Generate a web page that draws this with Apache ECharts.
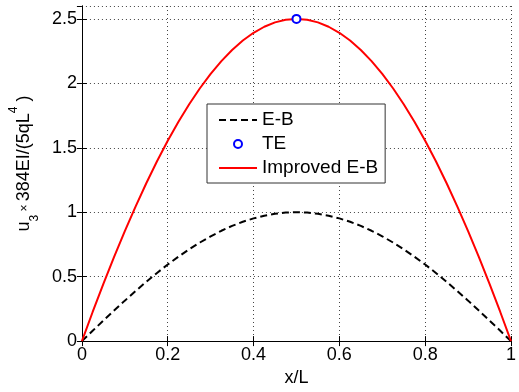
<!DOCTYPE html>
<html>
<head>
<meta charset="utf-8">
<script src="https://cdn.jsdelivr.net/npm/echarts@6/dist/echarts.min.js"></script>
<style>
  html, body { margin: 0; padding: 0; background: #fff; }
  #chart { width: 519px; height: 392px; }
</style>
</head>
<body>
<div id="chart"></div>
<script>
// x/L positions read along the span
const xPos = [0, 0.025, 0.05, 0.075, 0.1, 0.125, 0.15, 0.175, 0.2, 0.225, 0.25,
  0.275, 0.3, 0.325, 0.35, 0.375, 0.4, 0.425, 0.45, 0.475, 0.5,
  0.525, 0.55, 0.575, 0.6, 0.625, 0.65, 0.675, 0.7, 0.725, 0.75,
  0.775, 0.8, 0.825, 0.85, 0.875, 0.9, 0.925, 0.95, 0.975, 1];
// E-B (dashed black)
const ebValues = [0, 0.080, 0.159, 0.237, 0.314, 0.388, 0.46, 0.529, 0.594, 0.655, 0.712,
  0.765, 0.813, 0.856, 0.894, 0.926, 0.952, 0.973, 0.988, 0.997, 1,
  0.997, 0.988, 0.973, 0.952, 0.926, 0.894, 0.856, 0.813, 0.765, 0.712,
  0.655, 0.594, 0.529, 0.46, 0.388, 0.314, 0.237, 0.159, 0.080, 0];
// Improved E-B (red)
const improvedValues = [0, 0.226, 0.444, 0.654, 0.854, 1.044, 1.225, 1.395, 1.554, 1.702, 1.838,
  1.962, 2.073, 2.172, 2.259, 2.332, 2.392, 2.439, 2.473, 2.493, 2.5,
  2.493, 2.473, 2.439, 2.392, 2.332, 2.259, 2.172, 2.073, 1.962, 1.838,
  1.702, 1.554, 1.395, 1.225, 1.044, 0.854, 0.654, 0.444, 0.226, 0];
// TE (single blue circle)
const teX = [0.5];
const teValues = [2.5];

const FONT = "'Liberation Sans', Arial, sans-serif";
const pairs = (xs, ys) => xs.map((x, i) => [x, ys[i]]);

const chart = echarts.init(document.getElementById('chart'), null, { renderer: 'canvas' });

const gridLine = { show: true, lineStyle: { color: '#444', type: [1, 3], width: 1 } };
const frameAxis = {
  axisLine: { show: true, lineStyle: { color: '#000', width: 1 } },
  axisTick: { show: true, inside: true, length: 5, lineStyle: { color: '#000' } },
};

chart.setOption({
  animation: false,
  textStyle: { fontFamily: FONT },
  grid: { left: 81, right: 5, top: 6, bottom: 46 },
  legend: {
    orient: 'vertical',
    left: 207,
    top: 104,
    padding: [6, 7, 5, 11],
    backgroundColor: '#fff',
    borderColor: '#333',
    borderWidth: 1,
    borderRadius: 0,
    itemWidth: 38,
    itemHeight: 10,
    itemGap: 4,
    textStyle: { fontFamily: FONT, fontSize: 19, color: '#000', lineHeight: 20 },
    data: [
      { name: 'E-B', itemStyle: { opacity: 0 } },
      { name: 'TE' },
      { name: 'Improved E-B', itemStyle: { opacity: 0 } },
    ],
  },
  xAxis: [
    {
      type: 'value', min: 0, max: 1, interval: 0.2,
      ...frameAxis,
      splitLine: gridLine,
      axisLabel: { color: '#000', fontSize: 18, fontFamily: FONT, margin: 5 },
      name: 'x/L',
      nameLocation: 'middle',
      nameGap: 25,
      nameTextStyle: { color: '#000', fontSize: 18, fontFamily: FONT },
    },
    {
      type: 'value', min: 0, max: 1, interval: 0.2, position: 'top',
      ...frameAxis,
      splitLine: { show: false },
      axisLabel: { show: false },
    },
  ],
  yAxis: [
    {
      type: 'value', min: 0, max: 2.6, interval: 0.5,
      ...frameAxis,
      splitLine: gridLine,
      axisLabel: { color: '#000', fontSize: 18, fontFamily: FONT, margin: 5, showMaxLabel: false },
      name: '{m|u}{sub|3}{x| × }{m|384EI/(5qL}{sup|4}{m| )}',
      nameLocation: 'middle',
      nameGap: 33,
      nameTextStyle: {
        color: '#000',
        fontFamily: FONT,
        padding: [0, 0, 0, 20],
        rich: {
          m: { fontSize: 18, lineHeight: 33, color: '#000', fontFamily: FONT },
          x: { fontSize: 12, lineHeight: 33, color: '#000', fontFamily: FONT },
          sub: { fontSize: 12, lineHeight: 12, verticalAlign: 'bottom', color: '#000', fontFamily: FONT },
          sup: { fontSize: 12, lineHeight: 12, verticalAlign: 'top', color: '#000', fontFamily: FONT },
        },
      },
    },
    {
      type: 'value', min: 0, max: 2.6, interval: 0.5, position: 'right',
      ...frameAxis,
      splitLine: { show: false },
      axisLabel: { show: false },
    },
  ],
  series: [
    {
      name: 'E-B',
      type: 'line',
      data: pairs(xPos, ebValues),
      symbol: 'none',
      lineStyle: { color: '#000', width: 2, type: [7, 4] },
      itemStyle: { color: '#000' },
      z: 3,
    },
    {
      name: 'Improved E-B',
      type: 'line',
      data: pairs(xPos, improvedValues),
      symbol: 'none',
      lineStyle: { color: '#ff0000', width: 2 },
      itemStyle: { color: '#ff0000' },
      z: 4,
    },
    {
      name: 'TE',
      type: 'line',
      data: pairs(teX, teValues),
      symbol: 'emptyCircle',
      symbolSize: 8,
      showSymbol: true,
      lineStyle: { opacity: 0 },
      itemStyle: { color: '#0000ff', borderWidth: 1.5 },
      z: 5,
    },
  ],
});
</script>
</body>
</html>
